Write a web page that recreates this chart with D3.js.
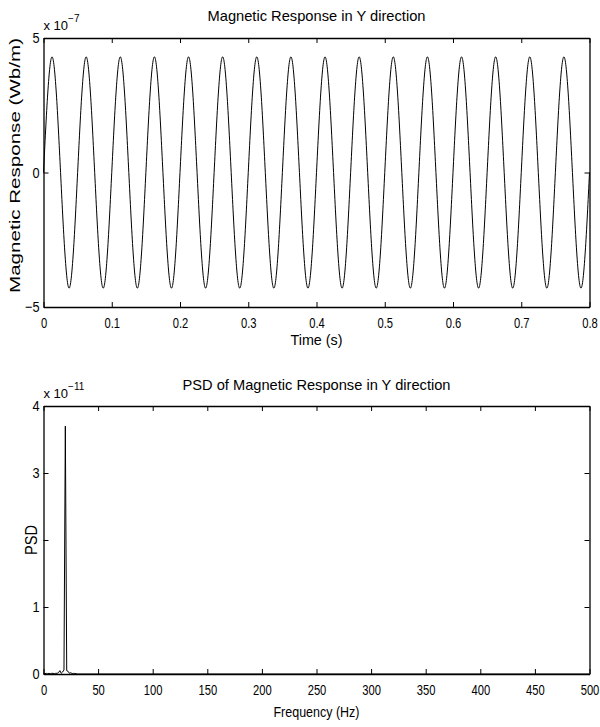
<!DOCTYPE html>
<html><head><meta charset="utf-8">
<script src="https://cdn.jsdelivr.net/npm/d3@7"></script>
<style>
body{margin:0;background:#fff}
text{font-family:"Liberation Sans",Arial,Helvetica,sans-serif;fill:#000}
</style>
</head><body>
<svg id="c" width="600" height="727"></svg>
<script>
// ---------- DATA ----------
// Top panel: magnetic response (x 1e-7 Wb/m), sampled at quarter periods of a 20 Hz wave
const timeS = [0,0.0125,0.025,0.0375,0.05,0.0625,0.075,0.0875,0.1,0.1125,0.125,0.1375,0.15,0.1625,0.175,0.1875,
  0.2,0.2125,0.225,0.2375,0.25,0.2625,0.275,0.2875,0.3,0.3125,0.325,0.3375,0.35,0.3625,0.375,0.3875,
  0.4,0.4125,0.425,0.4375,0.45,0.4625,0.475,0.4875,0.5,0.5125,0.525,0.5375,0.55,0.5625,0.575,0.5875,
  0.6,0.6125,0.625,0.6375,0.65,0.6625,0.675,0.6875,0.7,0.7125,0.725,0.7375,0.75,0.7625,0.775,0.7875,0.8];
const responseY = [0,4.3,0,-4.3,0,4.3,0,-4.3,0,4.3,0,-4.3,0,4.3,0,-4.3,
  0,4.3,0,-4.3,0,4.3,0,-4.3,0,4.3,0,-4.3,0,4.3,0,-4.3,
  0,4.3,0,-4.3,0,4.3,0,-4.3,0,4.3,0,-4.3,0,4.3,0,-4.3,
  0,4.3,0,-4.3,0,4.3,0,-4.3,0,4.3,0,-4.3,0,4.3,0,-4.3,0];
// Bottom panel: PSD (x 1e-11)
const psdFreq = [0,1.25,2.5,3.75,5,6.25,7.5,8.75,10,11.25,12.5,13.75,15,16.25,17.5,18.75,20,21.25,22.5,23.75,25,26.25,27.5,28.75,30,31.25,500];
const psdVal  = [0.01,0.005,0.01,0.005,0.01,0.005,0.01,0.01,0.005,0.01,0.01,0.02,0.05,0.01,0.03,0.06,3.7,0.05,0.04,0.01,0.02,0.005,0.01,0.005,0.005,0,0];
// Ticks
const timeTicks = [0,0.1,0.2,0.3,0.4,0.5,0.6,0.7,0.8];
const respTicks = [-5,0,5];
const freqTicks = [0,50,100,150,200,250,300,350,400,450,500];
const psdTicks = [0,1,2,3,4];
const psdTickLabels = ["0","1","","3","4"]; // "2" is hidden under the axis label in the reference

// ---------- DRAW ----------
const svg = d3.select("#c");
const L = 43.5, R = 589.5;
const SX = 0.8; // horizontal condensing of tick labels

function panel(cfg){
  const g = svg.append("g");
  const x = d3.scaleLinear().domain(cfg.xDomain).range([L,R]);
  const y = d3.scaleLinear().domain(cfg.yDomain).range([cfg.bottom,cfg.top]);

  g.append("path").datum(cfg.xs.map((d,i)=>[d,cfg.ys[i]]))
    .attr("fill","none").attr("stroke","#000").attr("stroke-width",1)
    .attr("d", d3.line().x(d=>x(d[0])).y(d=>y(d[1])).curve(cfg.curve));

  const ax = g.append("g").attr("transform",`translate(0,${cfg.bottom})`)
    .call(d3.axisBottom(x).tickValues(cfg.xTicks).tickSizeInner(-5).tickSizeOuter(0).tickPadding(11).tickFormat(d3.format("")));
  ax.attr("font-family",null).attr("font-size",null);
  ax.selectAll("text").style("font-size","14px").attr("transform",`scale(${SX},1)`);

  g.append("g").attr("transform",`translate(0,${cfg.top})`)
    .call(d3.axisTop(x).tickValues(cfg.xTicks).tickSizeInner(-5).tickSizeOuter(0).tickFormat(""));

  const ay = g.append("g").attr("transform",`translate(${L},0)`)
    .call(d3.axisLeft(y).tickValues(cfg.yTicks).tickSizeInner(-5).tickSizeOuter(0).tickPadding(4)
      .tickFormat(cfg.yFormat || d3.format("")));
  ay.attr("font-family",null).attr("font-size",null);
  ay.selectAll("text").style("font-size","15px").attr("x",-4/0.85).attr("transform","scale(0.85,1)");

  g.append("g").attr("transform",`translate(${R},0)`)
    .call(d3.axisRight(y).tickValues(cfg.yTicks).tickSizeInner(-5).tickSizeOuter(0).tickFormat(""));
  g.selectAll(".domain").attr("stroke","#000").attr("stroke-width",1.3);
  g.selectAll(".tick line").attr("stroke","#000");

  g.append("text").attr("x",(L+R)/2).attr("y",cfg.titleY).attr("text-anchor","middle")
    .style("font-size","15px").attr("textLength",cfg.titleLen).attr("lengthAdjust","spacingAndGlyphs").text(cfg.title);
  g.append("text").attr("x",(L+R)/2).attr("y",cfg.xlabY).attr("text-anchor","middle")
    .style("font-size","15px").attr("textLength",cfg.xlabLen).attr("lengthAdjust","spacingAndGlyphs").text(cfg.xlab);
  g.append("text").attr("transform",`translate(${cfg.ylabX},${cfg.ylabCY}) rotate(-90)`).attr("text-anchor","middle")
    .style("font-size",cfg.ylabFs).attr("textLength",cfg.ylabLen).attr("lengthAdjust","spacingAndGlyphs").text(cfg.ylab);
  const ex = g.append("text").attr("x",L).attr("y",cfg.expY).style("font-size","13px");
  ex.append("tspan").text("x 10");
  ex.append("tspan").attr("dy",-8).style("font-size","10px").text(cfg.exp);
}

panel({
  xs: timeS, ys: responseY, xDomain:[0,0.8], yDomain:[-5,5], top:38, bottom:307,
  xTicks: timeTicks, yTicks: respTicks, curve: d3.curveNatural,
  title:"Magnetic Response in Y direction", titleY:21, titleLen:218,
  xlab:"Time (s)", xlabY:345, xlabLen:52,
  ylab:"Magnetic Response (Wb/m)", ylabX:19.5, ylabCY:165.5, ylabLen:255, ylabFs:"14px",
  expY:30, exp:"\u22127"
});
panel({
  xs: psdFreq, ys: psdVal, xDomain:[0,500], yDomain:[0,4], top:406, bottom:674,
  xTicks: freqTicks, yTicks: psdTicks, curve: d3.curveLinear,
  yFormat: (d,i)=>psdTickLabels[i],
  title:"PSD of Magnetic Response in Y direction", titleY:390, titleLen:268,
  xlab:"Frequency (Hz)", xlabY:717, xlabLen:86,
  ylab:"PSD", ylabX:37, ylabCY:540, ylabLen:30, ylabFs:"16px",
  expY:398, exp:"\u221211"
});
</script>
</body></html>
